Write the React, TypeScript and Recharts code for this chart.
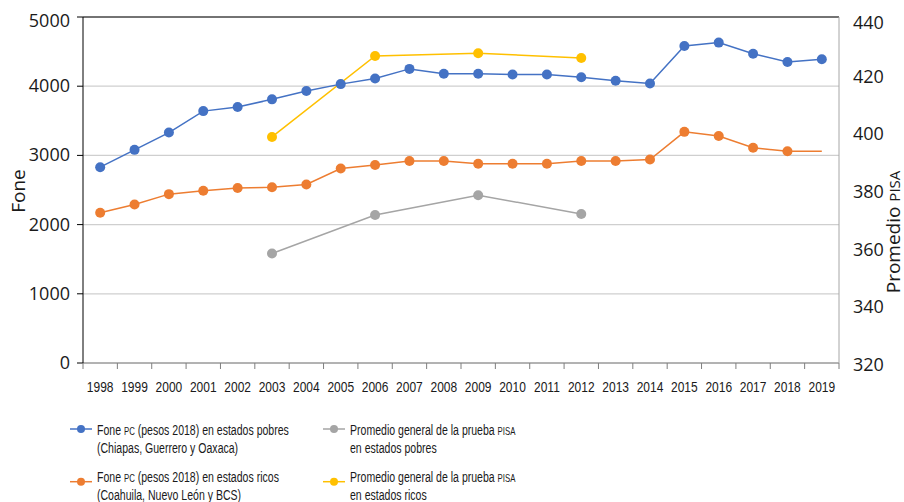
import React from "react"
import { LineChart, Line, XAxis, YAxis, CartesianGrid, ReferenceLine } from "recharts"

const years = ["1998", "1999", "2000", "2001", "2002", "2003", "2004", "2005", "2006", "2007", "2008", "2009", "2010", "2011", "2012", "2013", "2014", "2015", "2016", "2017", "2018", "2019"]
const fonePobres = [2830, 3080, 3330, 3640, 3700, 3810, 3930, 4030, 4110, 4250, 4180, 4180, 4170, 4170, 4130, 4080, 4040, 4580, 4630, 4470, 4350, 4390]
const foneRicos = [2170, 2290, 2440, 2490, 2530, 2540, 2580, 2810, 2860, 2920, 2920, 2880, 2880, 2880, 2920, 2920, 2940, 3340, 3280, 3110, 3060, 3060]
const pisaPobres = [null, null, null, null, null, 358, null, null, 371.3, null, null, 378.2, null, null, 371.7, null, null, null, null, null, null, null]
const pisaRicos = [null, null, null, null, null, 398.4, null, null, 426.5, null, null, 427.4, null, null, 425.8, null, null, null, null, null, null, null]
const leftTicks = [0, 1000, 2000, 3000, 4000, 5000]
const rightTicks = [320, 340, 360, 380, 400, 420, 440]

const data = years.map((year, i) => ({
    year,
    pobres: fonePobres[i],
    ricos: foneRicos[i],
    pisaPobres: pisaPobres[i],
    pisaRicos: pisaRicos[i],
}))

const BLUE = "#4472C4"
const ORANGE = "#ED7D31"
const GRAY = "#A5A5A5"
const YELLOW = "#FFC000"

const W = 896
const H = 494
const PLOT_LEFT = 75
const PLOT_RIGHT = 831
const PLOT_TOP = 9
const PLOT_BOTTOM = 355
const HALF_BAND = (PLOT_RIGHT - PLOT_LEFT) / years.length / 2

const SANS = "'Open Sans', sans-serif"
const ARIAL = "'Liberation Sans', Arial, sans-serif"

function YearTick(props: any) {
    const { x, payload, index } = props
    return (
        <g>
            <line x1={x - HALF_BAND} x2={x - HALF_BAND} y1={PLOT_BOTTOM} y2={PLOT_BOTTOM + 6} stroke="#7f7f7f" />
            {index === years.length - 1 && (
                <line x1={x + HALF_BAND} x2={x + HALF_BAND} y1={PLOT_BOTTOM} y2={PLOT_BOTTOM + 6} stroke="#7f7f7f" />
            )}
            <text transform={`translate(${x},${PLOT_BOTTOM + 29}) scale(0.8,1)`} textAnchor="middle" fontFamily={ARIAL} fontSize={15} fill="#1a1a1a">
                {payload.value}
            </text>
        </g>
    )
}

function NumTick(props: any) {
    const { x, y, payload, textAnchor, top, dy } = props
    const extra = payload.value === top ? 4 : 0
    return (
        <text x={x} y={y + dy + extra} textAnchor={textAnchor} fontFamily={SANS} fontSize={18} fill="#1a1a1a">
            {payload.value}
        </text>
    )
}

// the rich-states series stops drawing markers at 2019
function ricosDot(props: any) {
    const { cx, cy, index } = props
    if (index === years.length - 1 || cx == null) return <g key={`d${index}`} />
    return <circle key={`d${index}`} cx={cx} cy={cy} r={5} fill={ORANGE} stroke="none" />
}

function LegendItem({ x, y, color, lines, iconDy = 0 }: { x: number; y: number; color: string; lines: React.ReactNode[]; iconDy?: number }) {
    return (
        <g>
            <line x1={x} x2={x + 22} y1={y - 6 + iconDy} y2={y - 6 + iconDy} stroke={color} strokeWidth={1.5} />
            <circle cx={x + 11} cy={y - 6 + iconDy} r={4} fill={color} />
            {lines.map((l, i) => (
                <text key={i} transform={`translate(${x + 27},${y + i * 18.3}) scale(0.68,1)`} fontFamily={ARIAL} fontSize={15.5} fill="#1a1a1a">
                    {l}
                </text>
            ))}
        </g>
    )
}

const sc = (t: string) => <tspan fontSize={11.5}>{t}</tspan>

export default function App() {
    return (
        <div style={{ position: "fixed", left: 8, top: 8, width: W, height: H, overflow: "hidden", background: "#fff" }}>
            <LineChart width={W} height={395} data={data} margin={{ top: PLOT_TOP, right: 0, bottom: 0, left: 0 }}>
                <CartesianGrid yAxisId="left" vertical={false} stroke="#cfcfcf" strokeWidth={1.2} />
                <XAxis dataKey="year" height={395 - PLOT_BOTTOM} padding={{ left: HALF_BAND, right: HALF_BAND }} axisLine={{ stroke: "#7f7f7f" }} tickLine={false} tick={<YearTick />} interval={0} />
                <YAxis yAxisId="left" width={PLOT_LEFT} domain={[0, 5000]} ticks={leftTicks} axisLine={{ stroke: "#000" }} tickLine={{ stroke: "#000" }} tickSize={6} tickMargin={7} tick={<NumTick top={5000} dy={6} />} />
                <YAxis yAxisId="right" orientation="right" width={W - PLOT_RIGHT} domain={[320, 440]} ticks={rightTicks} axisLine={{ stroke: "#a6a6a6" }} tickLine={false} tickMargin={8} tick={<NumTick top={440} dy={8} />} />
                <ReferenceLine yAxisId="left" y={5000} stroke="#000" />
                <Line yAxisId="right" dataKey="pisaPobres" stroke={GRAY} strokeWidth={1.5} connectNulls dot={{ r: 5, fill: GRAY, stroke: "none" }} isAnimationActive={false} />
                <Line yAxisId="right" dataKey="pisaRicos" stroke={YELLOW} strokeWidth={1.5} connectNulls dot={{ r: 5, fill: YELLOW, stroke: "none" }} isAnimationActive={false} />
                <Line yAxisId="left" dataKey="ricos" stroke={ORANGE} strokeWidth={1.5} dot={ricosDot} isAnimationActive={false} />
                <Line yAxisId="left" dataKey="pobres" stroke={BLUE} strokeWidth={1.5} dot={{ r: 5, fill: BLUE, stroke: "none" }} isAnimationActive={false} />
            </LineChart>
            <svg width={W} height={H} style={{ position: "absolute", left: 0, top: 0, pointerEvents: "none" }}>
                <text transform="translate(17,183) rotate(-90)" textAnchor="middle" fontFamily={SANS} fontSize={19} fill="#1a1a1a">Fone</text>
                <text transform="translate(892,224) rotate(-90)" textAnchor="middle" fontFamily={SANS} fontSize={19} fill="#1a1a1a">
                    Promedio <tspan fontSize={15}>PISA</tspan>
                </text>
                <LegendItem x={62} y={427} color={BLUE} lines={[<>Fone {sc("PC")} (pesos 2018) en estados pobres</>, "(Chiapas, Guerrero y Oaxaca)"]} />
                <LegendItem x={62} y={473.7} color={ORANGE} iconDy={6} lines={[<>Fone {sc("PC")} (pesos 2018) en estados ricos</>, "(Coahuila, Nuevo León y BCS)"]} />
                <LegendItem x={315} y={427} color={GRAY} lines={[<>Promedio general de la prueba {sc("PISA")}</>, "en estados pobres"]} />
                <LegendItem x={315} y={473.7} color={YELLOW} iconDy={6} lines={[<>Promedio general de la prueba {sc("PISA")}</>, "en estados ricos"]} />
            </svg>
        </div>
    )
}
